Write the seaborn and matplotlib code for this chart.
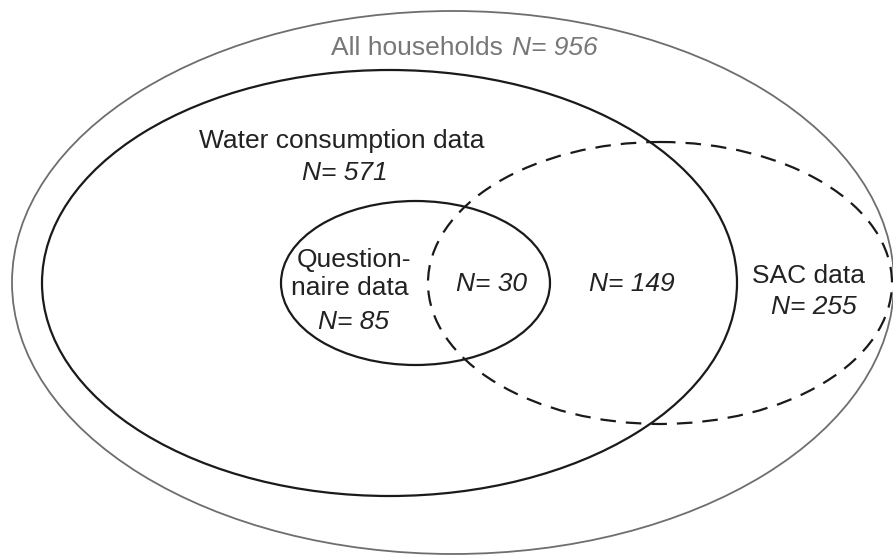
import matplotlib
matplotlib.use("Agg")
import matplotlib.pyplot as plt
from matplotlib.patches import Ellipse
import seaborn as sns

# Data: the sets and their household counts
set_names = ["All households", "Water consumption data", "Questionnaire data", "SAC data"]
set_counts = [956, 571, 85, 255]
# overlaps inside the SAC set
overlap_names = ["Questionnaire & SAC", "Water consumption & SAC"]
overlap_counts = [30, 149]

sns.set_theme(style="white")
plt.rcParams['font.family'] = ['Liberation Sans', 'DejaVu Sans']

fig = plt.figure(figsize=(8.93, 5.56), dpi=100)
ax = fig.add_axes([0, 0, 1, 1])
ax.set_xlim(0, 893)
ax.set_ylim(556, 0)
ax.axis('off')

# ellipse geometry (pixel coords of the reference)
shapes = {
    "All households": dict(xy=(453, 282.5), width=882, height=543, ec='#6e6e6e', lw=1.3, ls='-'),
    "Water consumption data": dict(xy=(389.5, 283), width=695, height=426, ec='#1a1a1a', lw=1.6, ls='-'),
    "Questionnaire data": dict(xy=(415.5, 283), width=269, height=164, ec='#1a1a1a', lw=1.6, ls='-'),
    "SAC data": dict(xy=(660, 283), width=464, height=282, ec='#1a1a1a', lw=1.6, ls=(0, (7, 4.5))),
}
for name in set_names:
    s = shapes[name]
    ax.add_patch(Ellipse(s['xy'], s['width'], s['height'], fill=False,
                         edgecolor=s['ec'], linewidth=s['lw'], linestyle=s['ls']))

fs = 19
dark = '#222222'
grey = '#777777'

# All households (one line, mixed style)
ax.text(503, 55, set_names[0], fontsize=fs, color=grey, ha='right', va='baseline')
ax.text(512, 55, f"N= {set_counts[0]}", fontsize=fs, color=grey, style='italic',
        ha='left', va='baseline')

# Water consumption
ax.text(342, 148, set_names[1], fontsize=fs, color=dark, ha='center', va='baseline')
ax.text(345, 180, f"N= {set_counts[1]}", fontsize=fs, color=dark, style='italic',
        ha='center', va='baseline')

# Questionnaire
ax.text(354, 267, "Question-", fontsize=fs, color=dark, ha='center', va='baseline')
ax.text(350, 295, "naire data", fontsize=fs, color=dark, ha='center', va='baseline')
ax.text(354, 329, f"N= {set_counts[2]}", fontsize=fs, color=dark, style='italic',
        ha='center', va='baseline')

# SAC
ax.text(809, 283, "SAC data", fontsize=fs, color=dark, ha='center', va='baseline')
ax.text(814, 314, f"N= {set_counts[3]}", fontsize=fs, color=dark, style='italic',
        ha='center', va='baseline')

# overlaps
ax.text(491, 291, f"N= {overlap_counts[0]}", fontsize=fs, color=dark, style='italic',
        ha='center', va='baseline')
ax.text(632, 291, f"N= {overlap_counts[1]}", fontsize=fs, color=dark, style='italic',
        ha='center', va='baseline')

fig.savefig("out.png", dpi=100, facecolor='white')
